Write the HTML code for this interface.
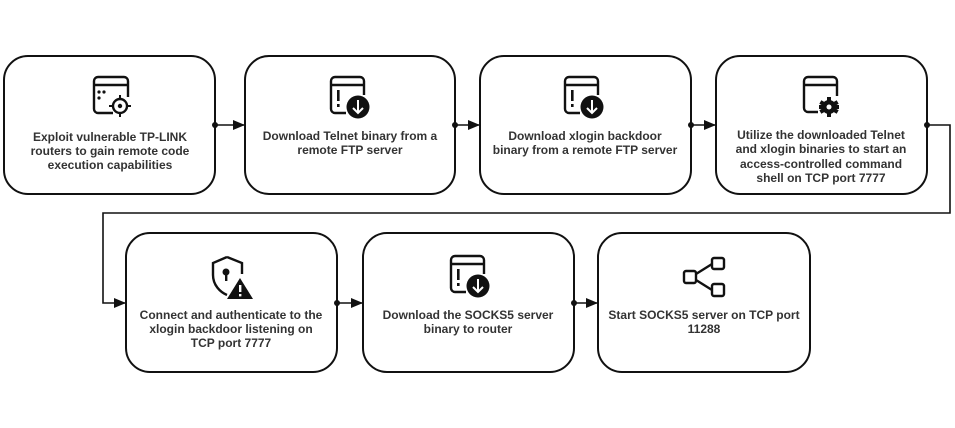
<!DOCTYPE html>
<html><head><meta charset="utf-8"><style>
html,body{margin:0;padding:0;background:#fff;}
svg{display:block;}
text{font-family:"Liberation Sans",sans-serif;font-size:12px;fill:#333;text-anchor:middle;font-weight:bold;}
</style></head><body>
<svg width="955" height="428" viewBox="0 0 955 428" xmlns="http://www.w3.org/2000/svg">
<defs>
<marker id="ah" markerWidth="12" markerHeight="10" refX="11" refY="5" orient="auto" markerUnits="userSpaceOnUse">
<path d="M0,0 L12,5 L0,10 z" fill="#111"/>
</marker>
</defs>
<g fill="none" stroke="#111" stroke-width="2">
<rect x="4" y="56" width="211" height="138" rx="24"/>
<rect x="245" y="56" width="210" height="138" rx="24"/>
<rect x="480" y="56" width="211" height="138" rx="24"/>
<rect x="716" y="56" width="211" height="138" rx="24"/>
<rect x="126" y="233" width="211" height="139" rx="24"/>
<rect x="363" y="233" width="211" height="139" rx="24"/>
<rect x="598" y="233" width="212" height="139" rx="24"/>
</g>
<!-- connectors -->
<g stroke="#111" stroke-width="1.6" fill="none">
<line x1="215" y1="125" x2="244" y2="125" marker-end="url(#ah)"/>
<line x1="455" y1="125" x2="479" y2="125" marker-end="url(#ah)"/>
<line x1="691" y1="125" x2="715" y2="125" marker-end="url(#ah)"/>
<polyline points="927,125 950,125 950,213 103,213 103,303 125,303" marker-end="url(#ah)"/>
<line x1="337" y1="303" x2="362" y2="303" marker-end="url(#ah)"/>
<line x1="574" y1="303" x2="597" y2="303" marker-end="url(#ah)"/>
</g>
<g fill="#111">
<circle cx="215" cy="125" r="3"/><circle cx="455" cy="125" r="3"/><circle cx="691" cy="125" r="3"/><circle cx="927" cy="125" r="3"/>
<circle cx="337" cy="303" r="3"/><circle cx="574" cy="303" r="3"/>
</g>
<!-- icon 1 -->
<g stroke="#111" stroke-width="2.4" fill="none">
<path d="M113,113 H98 a4,4 0 0 1 -4,-4 V81 a4,4 0 0 1 4,-4 H124 a4,4 0 0 1 4,4 V97"/>
<line x1="94" y1="85" x2="128" y2="85"/>
<circle cx="120" cy="106" r="7"/>
</g>
<g fill="#111"><circle cx="99" cy="92" r="1.6"/><circle cx="104" cy="92" r="1.6"/><circle cx="99" cy="98" r="1.6"/><circle cx="120" cy="106" r="2.2"/>
<rect x="119" y="95" width="2" height="4"/><rect x="119" y="113" width="2" height="4"/><rect x="109" y="105" width="4" height="2"/><rect x="127" y="105" width="4" height="2"/></g>
<!-- download icons -->
<g id="dl">
<g stroke="#111" stroke-width="2.4" fill="none">
<path d="M346,113 H335 a4,4 0 0 1 -4,-4 V81 a4,4 0 0 1 4,-4 H360 a4,4 0 0 1 4,4 V95"/>
<line x1="331" y1="85" x2="364" y2="85"/>
</g>
<rect x="337" y="90" width="2.6" height="11" fill="#111"/><rect x="337" y="104" width="2.6" height="3" fill="#111"/>
<circle cx="358" cy="107" r="11.5" fill="#111"/>
<path d="M358,100 V113 M353,108 L358,113 L363,108" stroke="#fff" stroke-width="2" fill="none"/>
</g>
<use href="#dl" transform="translate(234,0)"/>
<use href="#dl" transform="translate(120,179)"/>
<!-- gear icon -->
<g stroke="#111" stroke-width="2.4" fill="none">
<path d="M818,112 H808 a4,4 0 0 1 -4,-4 V81 a4,4 0 0 1 4,-4 H833 a4,4 0 0 1 4,4 V96"/>
<line x1="804" y1="85" x2="837" y2="85"/>
</g>
<g fill="#111"><circle cx="829" cy="107" r="7"/>
<rect x="827" y="97" width="4" height="20"/><rect x="819" y="105" width="20" height="4"/>
<rect x="827" y="97" width="4" height="20" transform="rotate(60 829 107)"/><rect x="827" y="97" width="4" height="20" transform="rotate(-60 829 107)"/></g>
<circle cx="829" cy="107" r="2.5" fill="#fff"/>
<!-- shield -->
<path d="M227,257 L213,263 V275 C213,285 220,292 227,295 M227,257 L242,263 V274" stroke="#111" stroke-width="2.4" fill="none"/>
<circle cx="226" cy="272" r="3.5" fill="#111"/><rect x="225" y="273" width="2.4" height="8" fill="#111"/>
<path d="M240,278 L253,299 H227 z" fill="#111"/>
<rect x="239" y="285" width="2.4" height="7" fill="#fff"/><rect x="239" y="294" width="2.4" height="2.4" fill="#fff"/>
<!-- share -->
<g stroke="#111" stroke-width="2.4" fill="none">
<rect x="684" y="271" width="12" height="12" rx="2"/>
<rect x="712" y="258" width="12" height="11" rx="2"/>
<rect x="712" y="284" width="12" height="12" rx="2"/>
<path d="M696,274 L712,264 M696,280 L712,290"/>
</g>
<!-- texts -->
<text x="110" y="141">Exploit vulnerable TP-LINK</text>
<text x="110" y="155">routers to gain remote code</text>
<text x="110" y="169">execution capabilities</text>
<text x="350" y="140">Download Telnet binary from a</text>
<text x="350" y="154">remote FTP server</text>
<text x="585" y="140">Download xlogin backdoor</text>
<text x="585" y="154">binary from a remote FTP server</text>
<text x="821" y="139">Utilize the downloaded Telnet</text>
<text x="821" y="153">and xlogin binaries to start an</text>
<text x="821" y="168">access-controlled command</text>
<text x="821" y="182">shell on TCP port 7777</text>
<text x="231" y="319">Connect and authenticate to the</text>
<text x="231" y="333">xlogin backdoor listening on</text>
<text x="231" y="347">TCP port 7777</text>
<text x="468" y="319">Download the SOCKS5 server</text>
<text x="468" y="333">binary to router</text>
<text x="704" y="319">Start SOCKS5 server on TCP port</text>
<text x="704" y="333">11288</text>
</svg>
</body></html>
